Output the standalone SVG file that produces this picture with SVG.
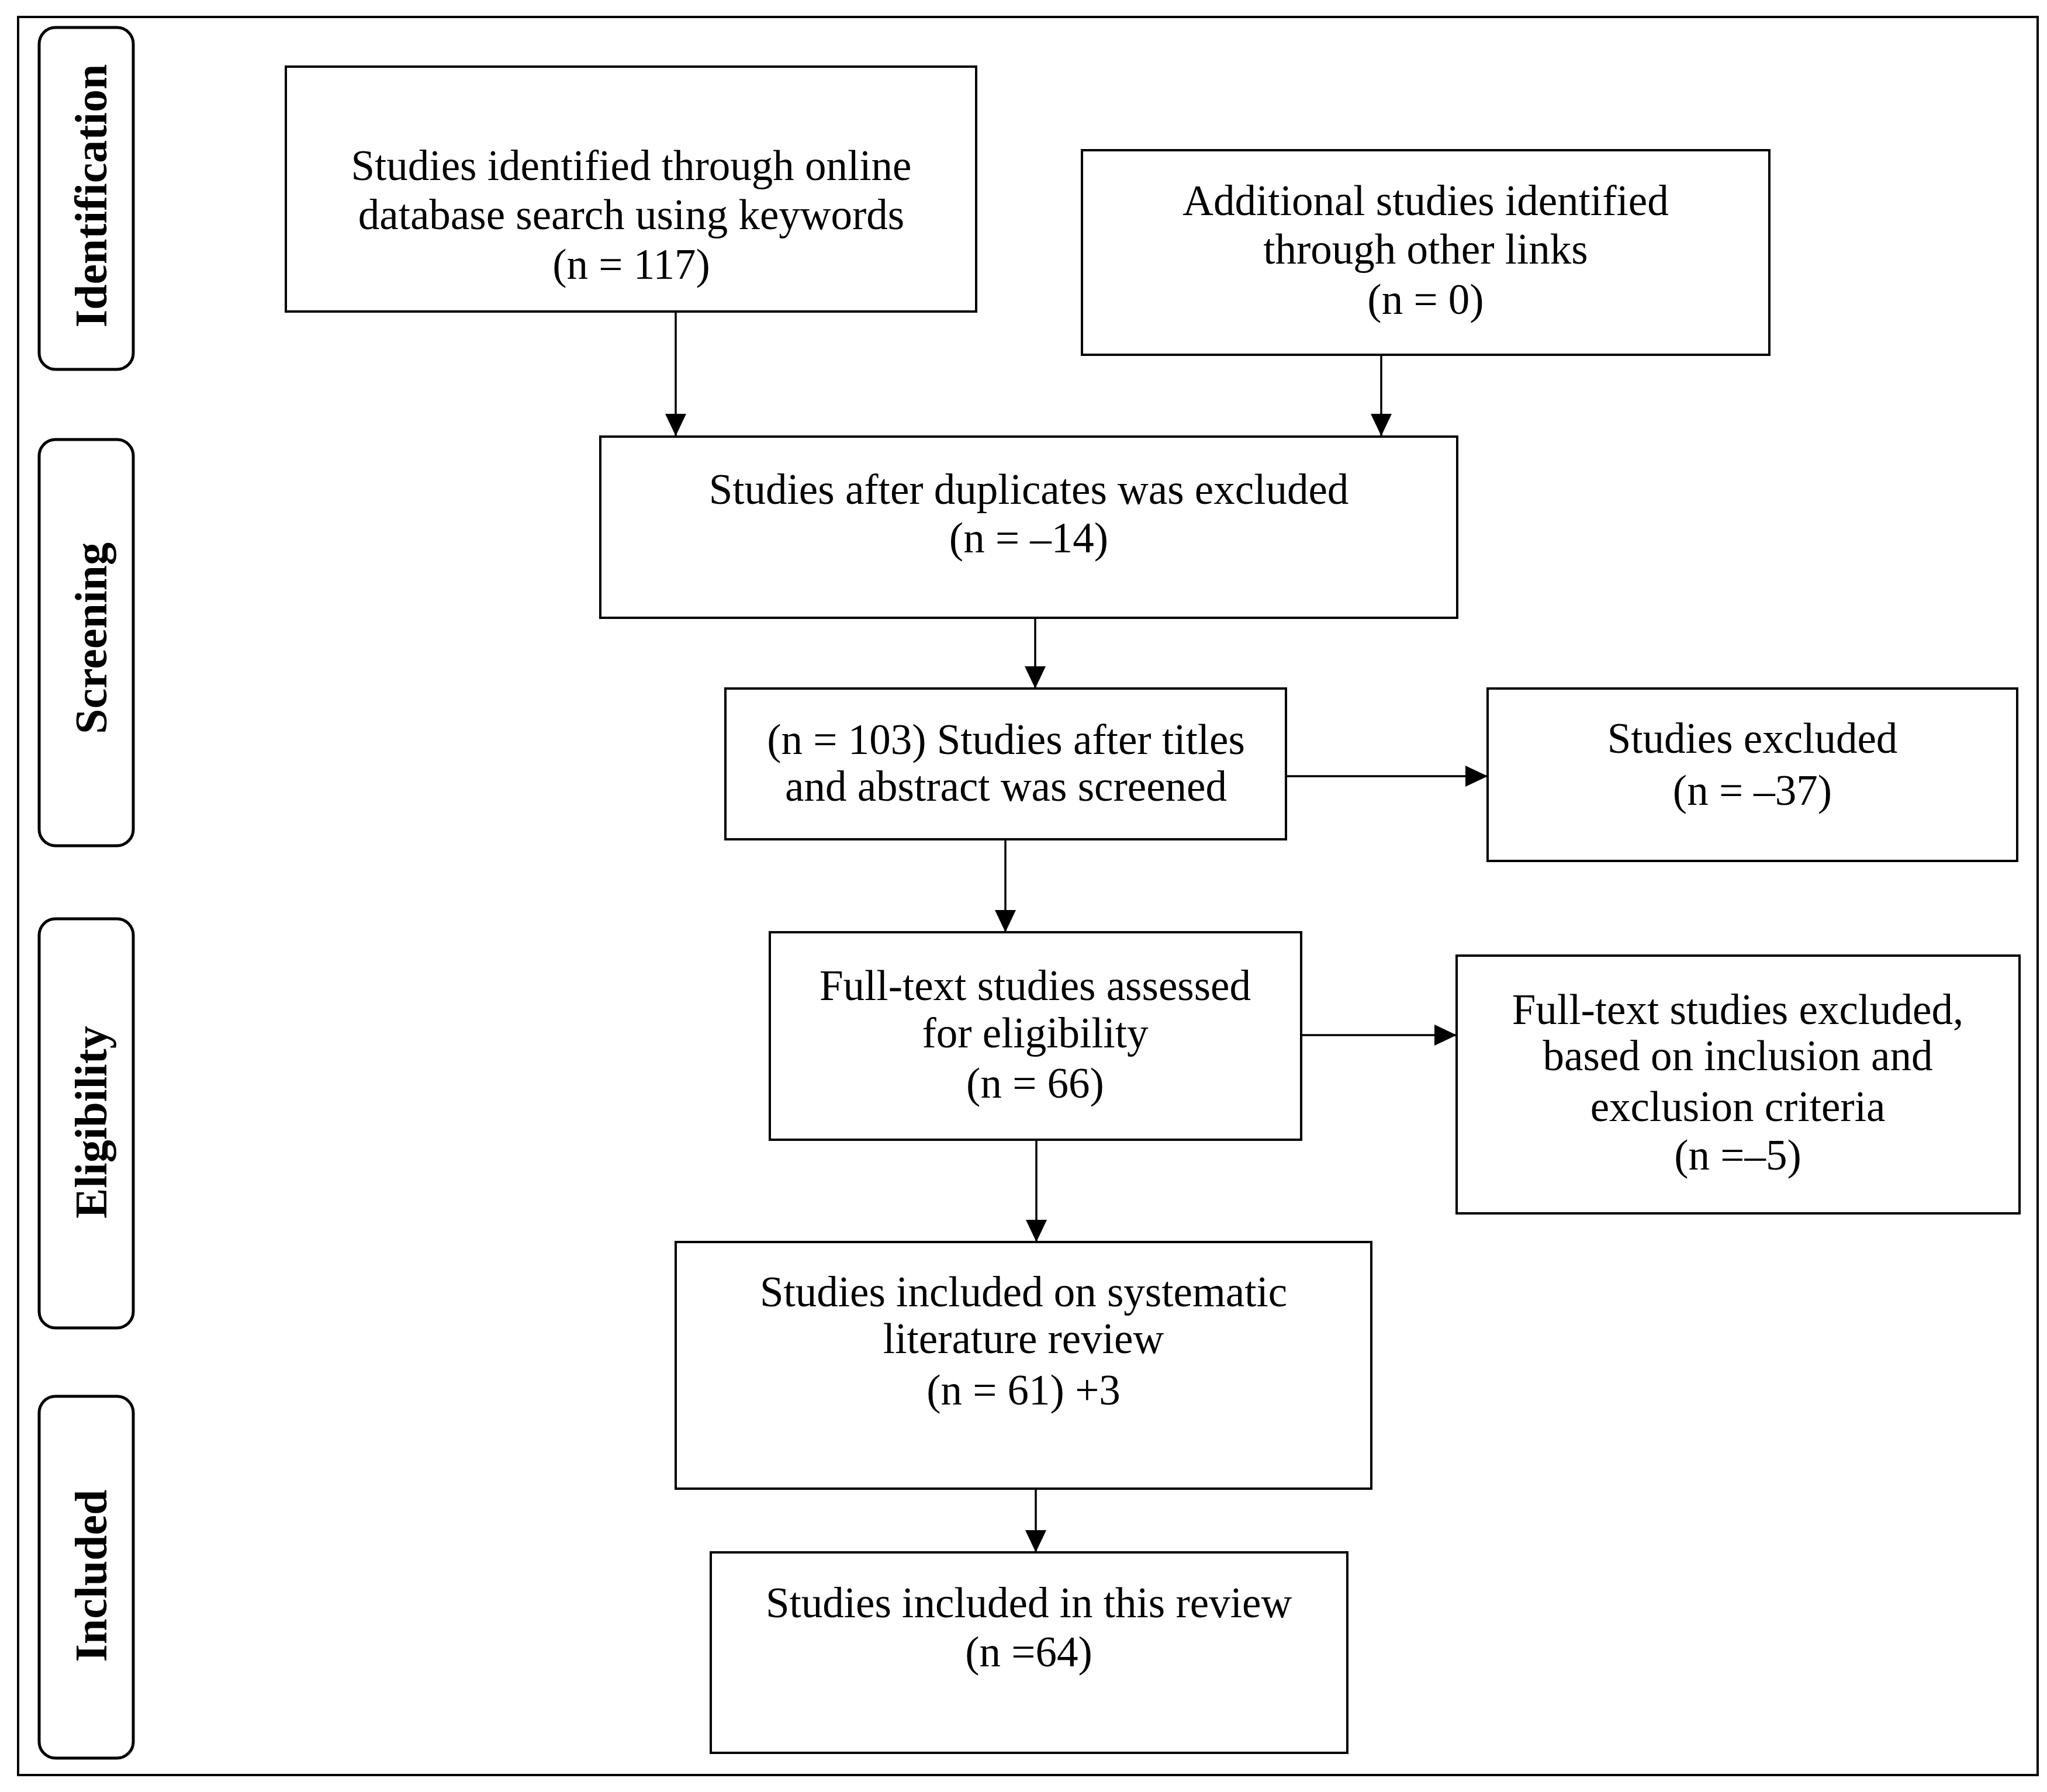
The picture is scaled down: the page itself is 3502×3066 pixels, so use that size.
<svg xmlns="http://www.w3.org/2000/svg" width="3502" height="3066" viewBox="0 0 3502 3066">
<style>
.frame{fill:none;stroke:#000;stroke-width:4}
.box{fill:#fff;stroke:#000;stroke-width:4}
.lab{fill:#fff;stroke:#000;stroke-width:5}
.t{font-family:"Liberation Serif","Times New Roman",serif;font-size:73px;fill:#000;text-anchor:middle}
.lt{font-family:"Liberation Serif","Times New Roman",serif;font-size:78px;font-weight:bold;fill:#000;text-anchor:middle}
.c{fill:none;stroke:#000;stroke-width:3.5}
</style>
<defs>
<marker id="ah" markerUnits="userSpaceOnUse" markerWidth="38" markerHeight="36" refX="38" refY="18" orient="auto">
<path d="M0,0 L38,18 L0,36 z" fill="#000"/>
</marker>
</defs>
<rect width="3502" height="3066" fill="#fff"/>
<rect class="frame" x="31" y="29" width="3455" height="3008"/>

<g id="stage-identification">
<rect class="lab" x="67" y="47" width="161" height="585" rx="28"/>
<text class="lt" transform="translate(182,335) rotate(-90)">Identification</text>
</g>
<g id="stage-screening">
<rect class="lab" x="67" y="752" width="161" height="695" rx="28"/>
<text class="lt" transform="translate(182,1092) rotate(-90)">Screening</text>
</g>
<g id="stage-eligibility">
<rect class="lab" x="67" y="1572" width="161" height="700" rx="28"/>
<text class="lt" transform="translate(182,1920) rotate(-90)">Eligibility</text>
</g>
<g id="stage-included">
<rect class="lab" x="67" y="2389" width="161" height="619" rx="28"/>
<text class="lt" transform="translate(182,2696) rotate(-90)">Included</text>
</g>

<g id="connectors">
<path class="c" d="M1156,533 V746" marker-end="url(#ah)"/>
<path class="c" d="M2363,607 V746" marker-end="url(#ah)"/>
<path class="c" d="M1771,1057 V1178" marker-end="url(#ah)"/>
<path class="c" d="M2200,1328 H2545" marker-end="url(#ah)"/>
<path class="c" d="M1720,1436 V1595" marker-end="url(#ah)"/>
<path class="c" d="M2226,1771 H2492" marker-end="url(#ah)"/>
<path class="c" d="M1773,1950 V2125" marker-end="url(#ah)"/>
<path class="c" d="M1772,2547 V2656" marker-end="url(#ah)"/>
</g>

<g id="node-database">
<rect class="box" x="489" y="114" width="1181" height="419"/>
<text class="t" x="1080" y="308">Studies identified through online</text>
<text class="t" x="1080" y="392">database search using keywords</text>
<text class="t" x="1080" y="477">(n = 117)</text>
</g>
<g id="node-additional">
<rect class="box" x="1851" y="257" width="1176" height="350"/>
<text class="t" x="2439" y="368">Additional studies identified</text>
<text class="t" x="2439" y="451">through other links</text>
<text class="t" x="2439" y="537">(n = 0)</text>
</g>
<g id="node-duplicates">
<rect class="box" x="1027" y="747" width="1466" height="310"/>
<text class="t" x="1760" y="862">Studies after duplicates was excluded</text>
<text class="t" x="1760" y="945">(n = –14)</text>
</g>
<g id="node-screened">
<rect class="box" x="1241" y="1178" width="959" height="258"/>
<text class="t" x="1721" y="1290">(n = 103) Studies after titles</text>
<text class="t" x="1721" y="1370">and abstract was screened</text>
</g>
<g id="node-excluded">
<rect class="box" x="2545" y="1178" width="906" height="295"/>
<text class="t" x="2998" y="1288">Studies excluded</text>
<text class="t" x="2998" y="1377">(n = –37)</text>
</g>
<g id="node-fulltext">
<rect class="box" x="1317" y="1595" width="909" height="355"/>
<text class="t" x="1771" y="1711">Full-text studies assessed</text>
<text class="t" x="1771" y="1792">for eligibility</text>
<text class="t" x="1771" y="1878">(n = 66)</text>
</g>
<g id="node-fulltext-excluded">
<rect class="box" x="2492" y="1635" width="963" height="441"/>
<text class="t" x="2973" y="1752">Full-text studies excluded,</text>
<text class="t" x="2973" y="1831">based on inclusion and</text>
<text class="t" x="2973" y="1918">exclusion criteria</text>
<text class="t" x="2973" y="2001">(n =–5)</text>
</g>
<g id="node-slr">
<rect class="box" x="1156" y="2125" width="1190" height="422"/>
<text class="t" x="1751" y="2235">Studies included on systematic</text>
<text class="t" x="1751" y="2315">literature review</text>
<text class="t" x="1751" y="2403">(n = 61) +3</text>
</g>
<g id="node-review">
<rect class="box" x="1216" y="2656" width="1089" height="343"/>
<text class="t" x="1760" y="2767">Studies included in this review</text>
<text class="t" x="1760" y="2851">(n =64)</text>
</g>
</svg>
